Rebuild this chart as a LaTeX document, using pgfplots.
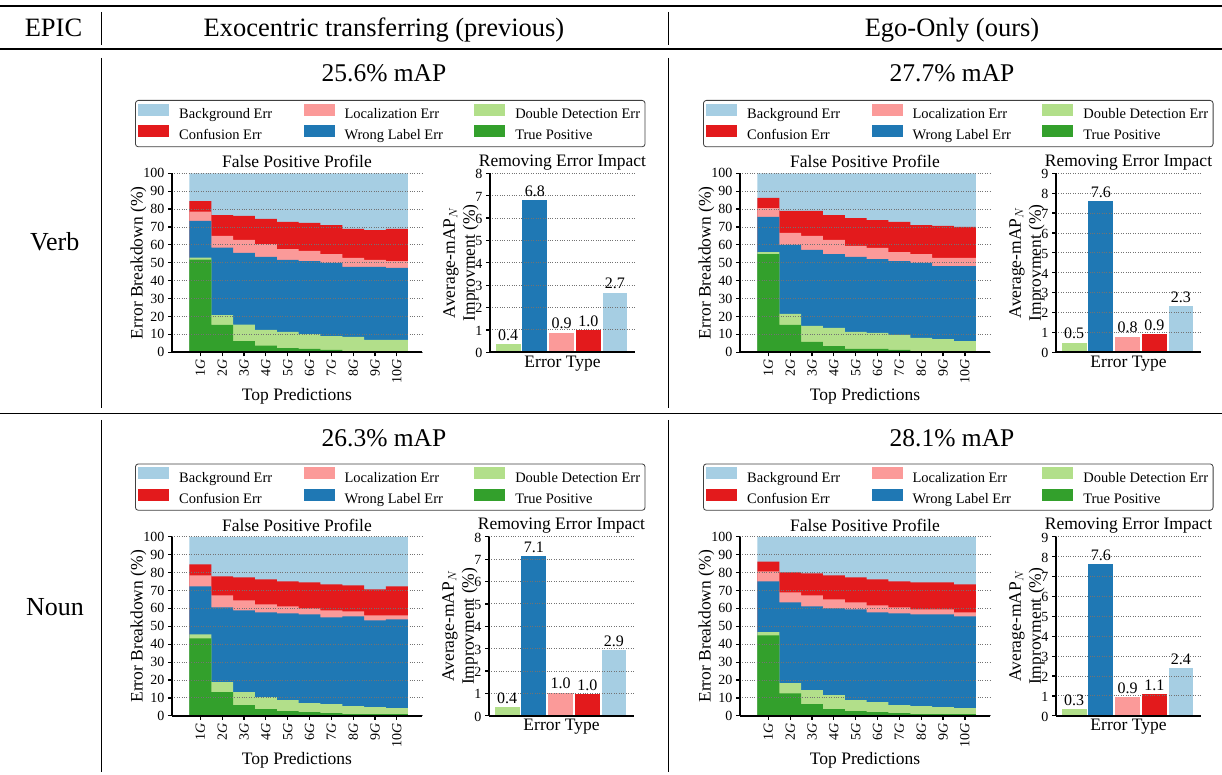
\documentclass[border=0pt]{standalone}
\usepackage{fontspec}
\setmainfont{Liberation Serif}
\usepackage{pgfplots}
\pgfplotsset{compat=1.18}
\usepackage{pgfplotstable}

\definecolor{cLB}{HTML}{A6CEE3}
\definecolor{cB}{HTML}{1F78B4}
\definecolor{cLG}{HTML}{B2DF8A}
\definecolor{cG}{HTML}{33A02C}
\definecolor{cP}{HTML}{FB9A99}
\definecolor{cR}{HTML}{E31A1C}

\newcommand{\fs}[1]{\fontsize{#1}{#1}\selectfont}

% cumulative tops of each stacked segment (%)
\pgfplotstableread{
x tp dd wl loc conf all
0 51.8 52.9 73.4 78.6 84.5 100
1 15.3 20.7 58.5 65.0 76.7 100
2 6.3 15.5 55.5 62.8 76.2 100
3 3.7 12.5 53.3 60.5 74.5 100
4 2.4 11.4 51.6 57.7 72.8 100
5 1.9 10.2 51.0 56.6 72.3 100
6 1.3 9.1 49.9 54.9 71.1 100
7 0.7 8.6 47.7 52.7 68.9 100
8 0.5 6.9 47.7 51.6 68.3 100
9 0.5 6.9 47.1 51.0 68.9 100
}\tVerbExo
\pgfplotstableread{
x tp dd wl loc conf all
0 54.9 56.0 75.6 80.6 86.2 100
1 15.3 21.4 60.0 66.7 79.0 100
2 5.8 14.7 57.2 65.0 79.0 100
3 3.5 13.6 54.9 62.8 76.7 100
4 1.9 11.4 53.3 59.4 75.0 100
5 1.9 10.8 52.1 58.3 73.9 100
6 1.3 9.7 51.0 56.0 72.8 100
7 0.7 8.0 49.9 54.9 71.1 100
8 0.7 7.4 48.2 52.7 70.6 100
9 0.5 6.3 48.2 52.7 70.0 100
}\tVerbEgo
\pgfplotstableread{
x tp dd wl loc conf all
0 43.3 45.5 72.3 78.4 84.6 100
1 13.2 18.8 60.6 67.3 77.9 100
2 5.9 13.2 58.9 64.5 77.3 100
3 3.7 10.4 57.8 62.3 76.2 100
4 2.6 8.7 57.2 61.2 75.1 100
5 2.0 7.1 56.7 60.0 74.5 100
6 1.5 6.5 55.0 58.9 73.4 100
7 1.0 5.4 55.6 58.4 72.9 100
8 0.9 4.8 53.3 56.1 70.6 100
9 0.9 4.3 53.9 56.1 72.3 100
}\tNounExo
\pgfplotstableread{
x tp dd wl loc conf all
0 45.0 46.7 75.1 80.7 86.2 100
1 12.6 18.2 63.4 69.0 80.1 100
2 6.5 14.3 61.2 67.3 79.6 100
3 3.7 11.5 60.0 65.1 78.4 100
4 2.6 8.7 59.5 63.4 77.3 100
5 2.0 7.6 57.8 61.7 76.2 100
6 1.5 5.9 57.2 60.6 75.1 100
7 1.0 5.4 56.7 59.5 74.5 100
8 0.9 4.8 56.7 59.5 74.5 100
9 0.9 4.3 55.6 57.8 73.4 100
}\tNounEgo

\pgfplotsset{
  legimg/.style={legend image code/.code={\fill[#1, sharp corners] (0pt,-1pt) rectangle (30pt,10pt);}},
  common/.style={
    scale only axis, height=179pt, anchor=south west, ymin=0,
    axis x line*=bottom, axis y line*=left,
    axis line style={line width=1.6pt, black},
    axis on top, ymajorgrids,
    grid style={dotted, line width=0.9pt, black!55},
    tick align=outside, major tick length=4pt,
    tick style={black, line width=1.2pt},
    ticklabel style={font=\fs{14}},
    /pgf/number format/assume math mode=true,
    ybar,
    every axis title/.style={at={(axis description cs:0.5,1)}, anchor=base, yshift=5.4pt, font=\fs{17.5}},
    every axis x label/.style={at={(axis description cs:0.5,0)}, anchor=base, font=\fs{17.5}},
    every axis y label/.style={rotate=90, font=\fs{17.5}},
  },
  stackax/.style={
    common, width=250pt, xmin=-1.3, xmax=10.15, ymax=100, bar width=1,
    ytick={0,10,...,100}, xtick={0,...,9},
    xticklabels={1\textit{G},2\textit{G},3\textit{G},4\textit{G},5\textit{G},6\textit{G},7\textit{G},8\textit{G},9\textit{G},10\textit{G}},
    x tick label style={rotate=90, anchor=east},
    title={False Positive Profile},
    xlabel={Top Predictions}, xlabel style={yshift=-48.3pt},
    ylabel={Error Breakdown (\%)},
    ylabel style={at={(axis description cs:-0.1176,0.5)}, anchor=base},
    legend columns=3, legend cell align=left,
    legend style={at={(axis description cs:-0.148,1.4095)}, anchor=north west,
      draw=black!75, line width=0.8pt, rounded corners=3pt, font=\fs{14.5},
      inner xsep=3pt, inner ysep=3.5pt, row sep=3pt,
      /tikz/every odd column/.append style={column sep=8pt},
      /tikz/every even column/.append style={column sep=29.5pt}},
  },
  remax/.style={
    common, width=145pt, xmin=-0.68, xmax=4.75, bar width=0.93,
    xtick=\empty,
    title={Removing Error Impact}, title style={yshift=1.8pt},
    xlabel={Error Type}, xlabel style={yshift=-15pt},
    ylabel={\fontsize{17.5}{20}\selectfont\begin{tabular}{@{}c@{}}Average-mAP$_N$\\Improvment (\%)\end{tabular}},
    ylabel style={at={(axis description cs:-0.062,0.5)}, anchor=south, inner sep=0pt},
    yticklabel style={yshift=-0.8pt},
    nodes near coords={\pgfmathprintnumber[fixed,fixed zerofill,precision=1,assume math mode=true]{\pgfplotspointmeta}},
    every node near coord/.append style={font=\fs{16}, text=black},
  },
}

\newcommand{\stackplot}[3]{%
\begin{axis}[stackax, at={(#1pt,#2pt)}]
\addplot[fill=cLB, draw=none, bar shift=0pt, forget plot] table[x=x,y=all]{#3};
\addplot[fill=cR, draw=none, bar shift=0pt, forget plot] table[x=x,y=conf]{#3};
\addplot[fill=cP, draw=none, bar shift=0pt, forget plot] table[x=x,y=loc]{#3};
\addplot[fill=cB, draw=none, bar shift=0pt, forget plot] table[x=x,y=wl]{#3};
\addplot[fill=cLG, draw=none, bar shift=0pt, forget plot] table[x=x,y=dd]{#3};
\addplot[fill=cG, draw=none, bar shift=0pt, forget plot] table[x=x,y=tp]{#3};
\addlegendimage{legimg=cLB}
\addlegendimage{legimg=cP}
\addlegendimage{legimg=cLG}
\addlegendimage{legimg=cR}
\addlegendimage{legimg=cB}
\addlegendimage{legimg=cG}
\legend{Background Err, Localization Err, Double Detection Err, Confusion Err, Wrong Label Err, True Positive}
\end{axis}}

\newcommand{\remplot}[8]{%
\begin{axis}[remax, at={(#1pt,#2pt)}, ymax=#3, ytick={0,...,#3}]
\addplot[fill=cLG, draw=none, bar shift=0pt] coordinates {(0,#4)};
\addplot[fill=cB, draw=none, bar shift=0pt] coordinates {(1,#5)};
\addplot[fill=cP, draw=none, bar shift=0pt] coordinates {(2,#6)};
\addplot[fill=cR, draw=none, bar shift=0pt] coordinates {(3,#7)};
\addplot[fill=cLB, draw=none, bar shift=0pt] coordinates {(4,#8)};
\end{axis}}

\begin{document}
\begin{tikzpicture}[x=1pt, y=1pt]
\useasboundingbox (0,0) rectangle (1222,774);
% table rules
\draw[line width=1.6pt] (0,768) -- (1222,768);
\draw[line width=1.4pt] (0,725) -- (1222,725);
\draw[line width=0.8pt] (0,361) -- (1222,361);
\foreach \xx in {101,668} {
  \draw[line width=0.8pt] (\xx,762) -- (\xx,729);
  \draw[line width=0.8pt] (\xx,716) -- (\xx,366);
  \draw[line width=0.8pt] (\xx,354) -- (\xx,2);
}
% header
\node[anchor=base, font=\fs{26.5}] at (53.5,737.2) {EPIC};
\node[anchor=base, font=\fs{26.5}] at (384,737.2) {Exocentric transferring (previous)};
\node[anchor=base, font=\fs{26.5}] at (952,737.2) {Ego-Only (ours)};
\node[anchor=base, font=\fs{26}] at (54.7,523.7) {Verb};
\node[anchor=base, font=\fs{26}] at (55,158.4) {Noun};
\node[anchor=base, font=\fs{25.5}] at (384,692.5) {25.6\% mAP};
\node[anchor=base, font=\fs{25.5}] at (952,692.5) {27.7\% mAP};
\node[anchor=base, font=\fs{25.5}] at (384,327.5) {26.3\% mAP};
\node[anchor=base, font=\fs{25.5}] at (952,327.5) {28.1\% mAP};
% panels
\stackplot{172}{421.7}{\tVerbExo}
\remplot{490}{421.7}{8}{0.37}{6.81}{0.88}{1.0}{2.67}
\stackplot{740}{421.7}{\tVerbEgo}
\remplot{1056}{421.7}{9}{0.49}{7.61}{0.79}{0.93}{2.33}
\stackplot{172}{58.2}{\tNounExo}
\remplot{489}{58.2}{8}{0.40}{7.13}{1.04}{0.98}{2.93}
\stackplot{740}{58.2}{\tNounEgo}
\remplot{1056}{58.2}{9}{0.34}{7.63}{0.94}{1.08}{2.38}
\end{tikzpicture}
\end{document}
